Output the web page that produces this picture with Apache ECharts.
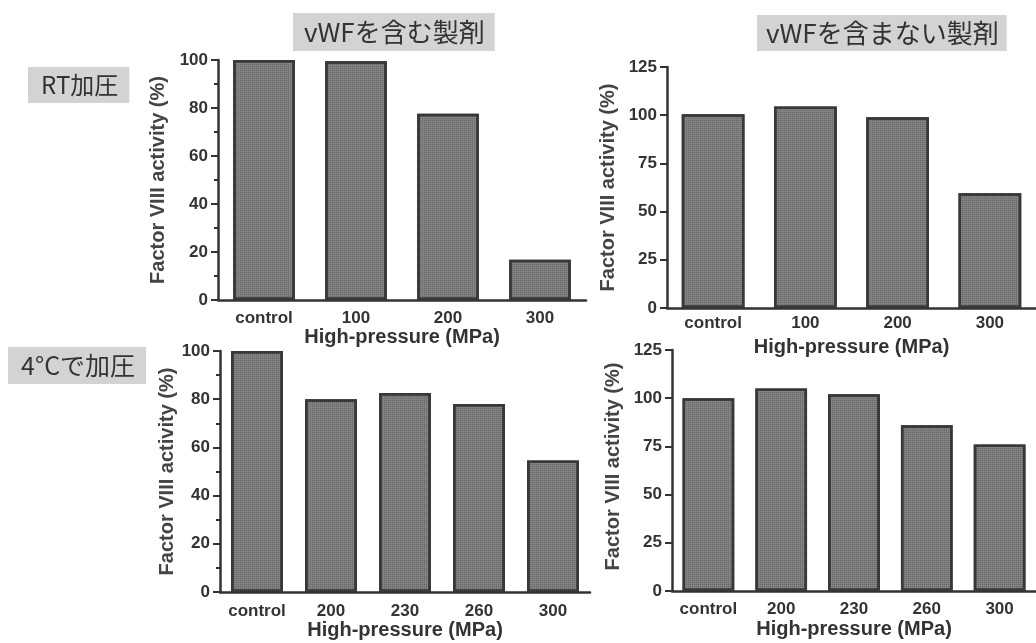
<!DOCTYPE html>
<html>
<head>
<meta charset="utf-8">
<script src="https://cdn.jsdelivr.net/npm/echarts@6/dist/echarts.min.js"></script>
<style>
  html, body { margin: 0; padding: 0; background: #fff; }
  #chart { width: 1036px; height: 643px; }
</style>
</head>
<body>
<div id="chart"></div>
<script>
// Factor VIII activity (%) after high-pressure treatment
const rtCategories = ['control', '100', '200', '300'];
const coldCategories = ['control', '200', '230', '260', '300'];

// room-temperature pressurisation
const rtWithVWF = [100, 99.5, 77.6, 16.8];
const rtWithoutVWF = [100.5, 104.5, 99, 59.5];

// pressurisation at 4 °C
const coldWithVWF = [100, 80, 82.6, 78, 54.6];
const coldWithoutVWF = [100, 105, 102, 86, 76];

const panelTitles = ['vWFを含む製剤', 'vWFを含まない製剤'];
const rowTitles = ['RT加圧', '4°Cで加圧'];
const xName = 'High-pressure (MPa)';
const yName = 'Factor VIII activity (%)';

const ink = '#333';
const axisFont = 'Liberation Sans, Arial, sans-serif';
const cjkFont = '"Noto Sans CJK JP", sans-serif';

function xAxisFor(gridIndex, data, labelMargin, nameGap) {
  return {
    type: 'category', gridIndex, data,
    axisLine: { lineStyle: { color: ink, width: 2.5 } },
    axisTick: { show: false },
    axisLabel: { interval: 0, color: ink, fontFamily: axisFont, fontWeight: 'bold', fontSize: 17, margin: labelMargin },
    name: xName, nameLocation: 'middle', nameGap,
    nameTextStyle: { color: ink, fontFamily: axisFont, fontWeight: 'bold', fontSize: 20 }
  };
}

function yAxisFor(gridIndex, max, interval, minor, nameGap, namePad) {
  return {
    type: 'value', gridIndex, min: 0, max, interval,
    splitLine: { show: false },
    axisLine: { show: true, lineStyle: { color: ink, width: 2.5 } },
    axisTick: { show: true, length: 7, lineStyle: { color: ink, width: 2 } },
    minorTick: { show: minor, splitNumber: 2, length: 4, lineStyle: { color: ink, width: 2 } },
    axisLabel: { color: ink, fontFamily: axisFont, fontWeight: 'bold', fontSize: 17, margin: 10 },
    name: yName, nameLocation: 'middle', nameGap,
    nameTextStyle: { color: '#444', fontFamily: axisFont, fontWeight: 'bold', fontSize: 20, padding: namePad }
  };
}

function barSeries(index, data, gap) {
  return {
    type: 'bar', xAxisIndex: index, yAxisIndex: index, data,
    barCategoryGap: gap,
    itemStyle: {
      color: '#828282',
      borderColor: '#383838',
      borderWidth: 2.5,
      decal: { symbol: 'rect', symbolSize: 1, dashArrayX: [1, 1], dashArrayY: [1, 1], color: 'rgba(55,55,55,0.4)' }
    },
    silent: true
  };
}

function boxTitle(text, left, top, size, pad) {
  return {
    text, left, top,
    backgroundColor: '#d3d3d3',
    padding: pad,
    textStyle: { color: ink, fontFamily: cjkFont, fontWeight: 'normal', fontSize: size, lineHeight: size + 4 }
  };
}

const chart = echarts.init(document.getElementById('chart'), null, { renderer: 'canvas' });
chart.setOption({
  backgroundColor: '#fff',
  animation: false,
  title: [
    boxTitle(panelTitles[0], 293, 13, 26, [4, 10, 4, 11]),
    boxTitle(panelTitles[1], 757, 15, 26, [3, 8, 3, 9]),
    boxTitle(rowTitles[0], 28, 67, 24, [4, 11, 4, 13]),
    boxTitle(rowTitles[1], 8, 347, 25, [4, 11, 4, 13])
  ],
  grid: [
    { left: 218, top: 60, width: 368, height: 240 },
    { left: 667, top: 67, width: 369, height: 241 },
    { left: 220, top: 351, width: 370, height: 241 },
    { left: 672, top: 350, width: 367, height: 241 }
  ],
  xAxis: [
    xAxisFor(0, rtCategories, 10, 27),
    xAxisFor(1, rtCategories, 7, 29),
    xAxisFor(2, coldCategories, 11, 28),
    xAxisFor(3, coldCategories, 10, 28)
  ],
  yAxis: [
    yAxisFor(0, 100, 20, true, 50, [0, 0, 0, 0]),
    yAxisFor(1, 125, 25, false, 49, [0, 0, 0, 0]),
    yAxisFor(2, 100, 20, true, 38, [0, 0, 0, 0]),
    yAxisFor(3, 125, 25, false, 49, [0, 0, 0, 8])
  ],
  series: [
    barSeries(0, rtWithVWF, '33%'),
    barSeries(1, rtWithoutVWF, '32%'),
    barSeries(2, coldWithVWF, '30%'),
    barSeries(3, coldWithoutVWF, '29%')
  ]
});
</script>
</body>
</html>
